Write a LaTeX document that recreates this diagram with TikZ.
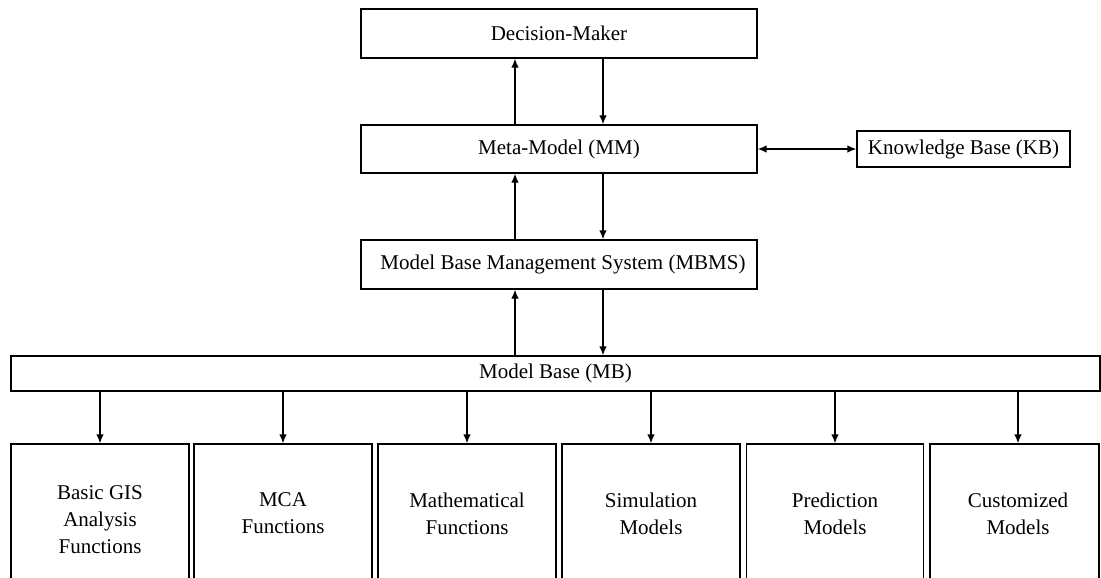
\documentclass[tikz,border=0pt]{standalone}
\usepackage{fontspec}
\setmainfont{Liberation Serif}
\usetikzlibrary{arrows.meta}
\begin{document}
\begin{tikzpicture}[x=1pt,y=-1pt,
  box/.style={draw, line width=1.3pt, inner sep=0pt, align=center, font=\fontsize{21}{27}\selectfont},
  lbl/.style={inner sep=0pt, align=center, font=\fontsize{21}{27}\selectfont},
  arr/.style={line width=1.3pt, -{Latex[length=9pt,width=7.5pt]}},
  darr/.style={line width=1.3pt, {Latex[length=9pt,width=7.5pt]}-{Latex[length=9pt,width=7.5pt]}}]
\useasboundingbox (0,0) rectangle (1101,578);
\clip (0,0) rectangle (1101,578);
\node[box, minimum width=396pt, minimum height=49pt] (dm) at (559,33.5) {Decision-Maker};
\node[box, minimum width=396pt, minimum height=48pt] (mm) at (559,149) {Meta-Model (MM)};
\node[box, minimum width=396pt, minimum height=49pt] (mbms) at (559,264.5) {\hspace*{8pt}Model Base Management System (MBMS)};
\node[box, minimum width=213pt, minimum height=36pt] (kb) at (963.5,149) {Knowledge Base (KB)};
\node[box, minimum width=1089pt, minimum height=35pt] (mb) at (555.5,373.5) {Model Base (MB)};
% bottom boxes
\node[box, minimum width=178pt, minimum height=200pt] (b1) at (100,544) {};
\node[box, minimum width=178pt, minimum height=200pt] (b2) at (283,544) {};
\node[box, minimum width=178pt, minimum height=200pt] (b3) at (467,544) {};
\node[box, minimum width=178pt, minimum height=200pt] (b4) at (651,544) {};
\node[box, minimum width=177pt, minimum height=200pt] (b5) at (835,544) {};
\node[box, minimum width=169pt, minimum height=200pt] (b6) at (1014.5,544) {};
\node[lbl] (t1) at (100,520) {Basic GIS\\Analysis\\Functions};
\node[lbl] (t2) at (283,513.5) {MCA\\Functions};
\node[lbl] (t3) at (467,513.5) {Mathematical\\Functions};
\node[lbl] (t4) at (651,513.5) {Simulation\\Models};
\node[lbl] (t5) at (835,513.5) {Prediction\\Models};
\node[lbl] (t6) at (1018,513.5) {Customized\\Models};
% connectors
\draw[arr] ([xshift=-44pt]mm.north) -- ([xshift=-44pt]dm.south);
\draw[arr] ([xshift=44pt]dm.south) -- ([xshift=44pt]mm.north);
\draw[arr] ([xshift=-44pt]mbms.north) -- ([xshift=-44pt]mm.south);
\draw[arr] ([xshift=44pt]mm.south) -- ([xshift=44pt]mbms.north);
\draw[arr] (mb.north -| 515,0) -- ([xshift=-44pt]mbms.south);
\draw[arr] ([xshift=44pt]mbms.south) -- (mb.north -| 603,0);
\draw[darr] (mm.east) -- (kb.west);
\draw[arr] (mb.south -| b1.north) -- (b1.north);
\draw[arr] (mb.south -| b2.north) -- (b2.north);
\draw[arr] (mb.south -| b3.north) -- (b3.north);
\draw[arr] (mb.south -| b4.north) -- (b4.north);
\draw[arr] (mb.south -| b5.north) -- (b5.north);
\draw[arr] ([xshift=3.5pt]mb.south -| b6.north) -- ([xshift=3.5pt]b6.north);
\end{tikzpicture}
\end{document}
